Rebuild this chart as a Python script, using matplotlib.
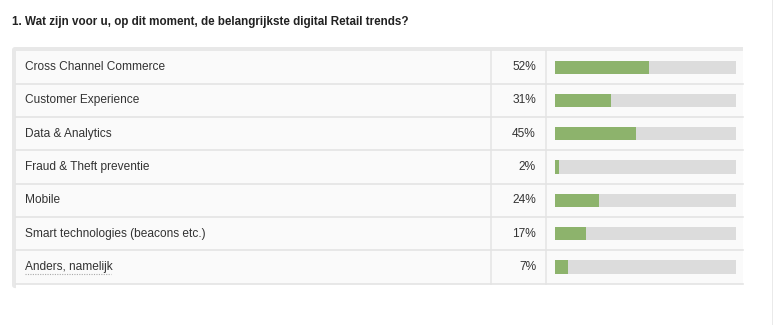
import matplotlib
matplotlib.use("Agg")
import matplotlib.pyplot as plt
from matplotlib.patches import Rectangle, FancyBboxPatch

plt.rcParams['font.family'] = ['Liberation Sans', 'DejaVu Sans']

title = "1. Wat zijn voor u, op dit moment, de belangrijkste digital Retail trends?"
categories = [
    "Cross Channel Commerce",
    "Customer Experience",
    "Data & Analytics",
    "Fraud & Theft preventie",
    "Mobile",
    "Smart technologies (beacons etc.)",
    "Anders, namelijk",
]
percentages = [52, 31, 45, 2, 24, 17, 7]

W, H = 773, 325
fig = plt.figure(figsize=(W / 100, H / 100), dpi=100)
fig.patch.set_facecolor("white")

# Page axes in pixel coordinates
ax = fig.add_axes([0, 0, 1, 1])
ax.set_xlim(0, W)
ax.set_ylim(H, 0)
ax.axis("off")

text_col = "#333333"
line_col = "#e4e4e4"
frame_col = "#e8e8e8"

ax.text(12, 22.5, title, fontsize=8.4, fontweight="bold", color="#222222",
        va="center", ha="left")

left, right = 12, 743
top, row_top, row_h = 47, 50.5, 33.3
n = len(categories)
bottom = row_top + n * row_h

# table frame: top band and left strip, then the light cell background
ax.add_patch(FancyBboxPatch((left, top), right - left + 6, bottom + 4.5 - top,
                            boxstyle="round,pad=0,rounding_size=3",
                            facecolor=frame_col, edgecolor="none", zorder=0))
ax.add_patch(Rectangle((left + 3.5, row_top), right - left + 10, bottom + 10 - row_top,
                       facecolor="white", edgecolor="none", zorder=1))
ax.add_patch(Rectangle((left + 3.5, row_top), right - left - 3.5, bottom - row_top,
                       facecolor="#fafafa", edgecolor="none", zorder=1))
ax.add_patch(Rectangle((right, top - 1), 10, bottom - top + 10,
                       facecolor="white", edgecolor="none", zorder=1))
ax.plot([772.5, 772.5], [0, H], color="#e6e6e6", lw=1.2, zorder=2)

col1, col2 = 491, 546
ax.plot([col1, col1], [row_top, bottom], color=line_col, lw=1.1, zorder=2)
ax.plot([col2, col2], [row_top, bottom], color=line_col, lw=1.1, zorder=2)

for i, (cat, pct) in enumerate(zip(categories, percentages)):
    yc = row_top + (i + 0.5) * row_h
    ax.plot([left + 3.5, right], [row_top + (i + 1) * row_h] * 2,
            color=line_col, lw=1.2, zorder=2)
    ax.text(25, yc, cat, fontsize=8.6, color=text_col, va="center", ha="left", zorder=3)
    ax.text(536, yc, f"{pct}%", fontsize=8.6, color=text_col, va="center", ha="right", zorder=3)

# dotted underline for the open-answer option
y_ul = row_top + (n - 0.5) * row_h + 7
ax.plot([25, 111], [y_ul, y_ul], color="#aaaaaa", lw=0.8, ls=(0, (1, 1.2)), zorder=3)

# bar column
bx0, bx1 = 555.3, 735.7
bax = fig.add_axes([bx0 / W, 1 - bottom / H, (bx1 - bx0) / W, (bottom - row_top) / H])
bax.set_xlim(0, 100)
bax.set_ylim(n - 0.5, -0.5)
bax.axis("off")
bax.patch.set_alpha(0)
ypos = list(range(n))
bar_h = 13.3 / row_h
bax.barh(ypos, [100] * n, height=bar_h, color="#dcdcdc", edgecolor="none")
bax.barh(ypos, percentages, height=bar_h, color="#8db36c", edgecolor="none")

fig.savefig("out.png", dpi=100)
